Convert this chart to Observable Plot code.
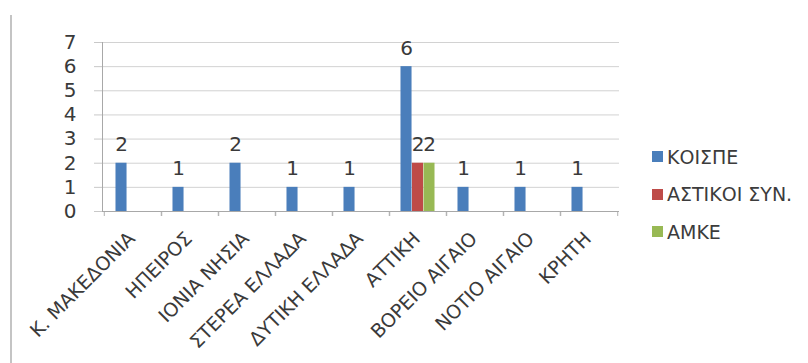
<!DOCTYPE html>
<html>
<head>
<meta charset="utf-8">
<script src="https://cdn.jsdelivr.net/npm/d3@7"></script>
<script src="https://cdn.jsdelivr.net/npm/@observablehq/plot@0.6"></script>
<style>
  html, body { margin: 0; padding: 0; background: #fff; }
  #wrap { position: relative; width: 808px; height: 363px; overflow: hidden; }
  #border { position: absolute; left: 10px; top: 15px; width: 2px; height: 348px; background: #c4c4c4; }
  #legend { position: absolute; left: 652px; top: 138px; font-family: "DejaVu Sans", sans-serif; font-size: 19px; color: #3c3c3c; }
  #legend .item { height: 37.5px; display: flex; align-items: center; white-space: nowrap; }
  #legend .sw { width: 11px; height: 11px; margin-right: 4px; display: inline-block; }
</style>
</head>
<body>
<div id="wrap"><div id="border"></div><div id="legend"></div></div>
<script>
const regions = ["Κ. ΜΑΚΕΔΟΝΙΑ","ΗΠΕΙΡΟΣ","ΙΟΝΙΑ ΝΗΣΙΑ","ΣΤΕΡΕΑ ΕΛΛΑΔΑ","ΔΥΤΙΚΗ ΕΛΛΑΔΑ","ΑΤΤΙΚΗ","ΒΟΡΕΙΟ ΑΙΓΑΙΟ","ΝΟΤΙΟ ΑΙΓΑΙΟ","ΚΡΗΤΗ"];
const seriesNames = ["ΚΟΙΣΠΕ","ΑΣΤΙΚΟΙ ΣΥΝ.","ΑΜΚΕ"];
const koispe  = [2,1,2,1,1,6,1,1,1];
const astikoi = [0,0,0,0,0,2,0,0,0];
const amke    = [0,0,0,0,0,2,0,0,0];
const seriesColors = ["#4a7ebb","#be4b48","#98b954"];
const yTicks = [0,1,2,3,4,5,6,7];

const seriesValues = [koispe, astikoi, amke];
const data = seriesValues.map((vals, si) =>
  regions.map((r, ri) => ({region: r, series: seriesNames[si], value: vals[ri]})).filter(d => d.value > 0)
);

const W = 808, H = 363, mL = 102, mR = 189, mT = 42, mB = 152;
const step = (W - mL - mR) / regions.length;
const bw = step * 0.2;
const font = "DejaVu Sans";

const marks = [
  Plot.gridY({ticks: yTicks, stroke: "#d2d2d2", strokeOpacity: 1}),
  Plot.axisY({ticks: yTicks, tickFormat: "d", tickSize: 8, tickPadding: 18, stroke: "#c8c8c8", fontSize: 20, fill: "#3a3a3a", label: null}),
  Plot.axisX({text: null, tickSize: 5, dx: -step / 2, stroke: "#b0b0b0", label: null}),
  Plot.axisX({text: null, tickSize: 5, dx: step / 2, stroke: "#b0b0b0", label: null}),
  Plot.axisX({tickSize: 0, tickPadding: 24, tickRotate: -45, fontSize: 19, fill: "#3a3a3a", label: null, dx: -1}),
];
data.forEach((d, i) => {
  marks.push(Plot.barY(d, {x: "region", y: "value", fill: seriesColors[i],
    insetLeft: bw * (1 + i), insetRight: bw * (3 - i)}));
  marks.push(Plot.text(d, {x: "region", y: "value", text: d => String(d.value),
    dx: bw * (i - 1), dy: -12, lineAnchor: "bottom", fontSize: 20, fill: "#3a3a3a"}));
});
marks.push(Plot.frame({anchor: "left", stroke: "#a8a8a8"}));
marks.push(Plot.ruleY([0], {stroke: "#a8a8a8"}));

const chart = Plot.plot({
  width: W, height: H,
  marginLeft: mL, marginRight: mR, marginTop: mT, marginBottom: mB,
  style: {fontFamily: font, background: "transparent"},
  x: {domain: regions, padding: 0, type: "band"},
  y: {domain: [0, 7]},
  marks
});
chart.style.position = "absolute";
chart.style.left = "0px";
chart.style.top = "0px";
document.getElementById("wrap").appendChild(chart);

const legend = document.getElementById("legend");
seriesNames.forEach((n, i) => {
  const it = document.createElement("div");
  it.className = "item";
  const sw = document.createElement("span");
  sw.className = "sw";
  sw.style.background = seriesColors[i];
  it.appendChild(sw);
  it.appendChild(document.createTextNode(n));
  legend.appendChild(it);
});
</script>
</body>
</html>
